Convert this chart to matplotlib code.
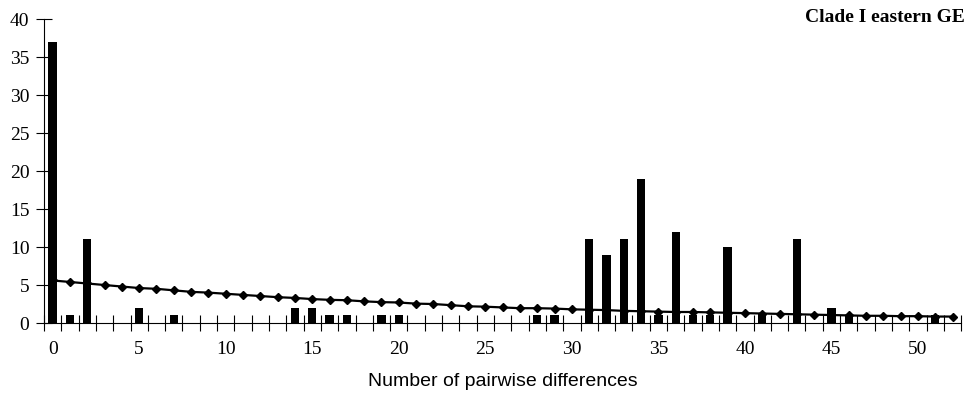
import numpy as np
import matplotlib.pyplot as plt

# observed mismatch counts (only non-zero categories)
bar_x = [0, 1, 2, 5, 7, 14, 15, 16, 17, 19, 20, 28, 29, 31, 32, 33, 34, 35,
         36, 37, 38, 39, 41, 43, 45, 46, 51]
bar_y = [37, 1, 11, 2, 1, 2, 2, 1, 1, 1, 1, 1, 1, 11, 9, 11, 19, 1,
         12, 1, 1, 10, 1, 11, 2, 1, 1]

# expected distribution, one value per category 0..52
line_y = [5.6, 5.4, 5.2, 5.0, 4.8, 4.6, 4.5, 4.3, 4.1, 4.0, 3.85, 3.7, 3.55,
          3.4, 3.3, 3.15, 3.05, 3.0, 2.85, 2.75, 2.7, 2.55, 2.5, 2.35, 2.2,
          2.15, 2.05, 1.95, 1.95, 1.9, 1.8, 1.75, 1.7, 1.6, 1.55, 1.5, 1.45,
          1.45, 1.4, 1.35, 1.3, 1.25, 1.2, 1.15, 1.1, 1.05, 1.0, 0.95, 0.95,
          0.9, 0.9, 0.85, 0.85]

x_labels = ['0', '5', '10', '15', '20', '25', '30', '35', '40', '45', '50']
title = 'Clade I eastern GE'

serif = 'Liberation Serif'
sans = 'Liberation Sans'

fig = plt.figure(figsize=(9.69, 3.96), dpi=100)
ax = fig.add_axes([0.0454, 0.1843, 0.9466, 0.7677])

n = len(line_y)
ax.plot(np.arange(n), line_y, color='black', lw=1.6, marker='D',
        markersize=4.5, zorder=2)
ax.bar(bar_x, bar_y, width=0.48, color='black', zorder=3)

ax.set_xlim(-0.5, n - 0.5)
ax.set_ylim(0, 40)

# category boundaries as ticks, labels every 5 categories
ax.set_xticks(np.arange(-0.5, n, 1.0))
ax.set_xticklabels([])
ax.tick_params(axis='x', which='major', direction='inout', length=12, width=0.8)
ax.set_xticks(np.arange(0, n, 5), minor=True)
ax.set_xticklabels(x_labels, minor=True, fontfamily=serif, fontsize=14)
ax.tick_params(axis='x', which='minor', length=0, pad=13)

ax.set_yticks(np.arange(0, 41, 5))
ax.tick_params(axis='y', direction='inout', length=11, width=0.8,
               labelsize=14, pad=5)
for lab in ax.get_yticklabels():
    lab.set_fontfamily(serif)

for s in ['top', 'right']:
    ax.spines[s].set_visible(False)
ax.spines['left'].set_linewidth(0.8)
ax.spines['bottom'].set_linewidth(0.8)

ax.set_xlabel('Number of pairwise differences', fontfamily=sans, fontsize=14,
              labelpad=11)
fig.text(0.996, 0.955, title, ha='right', va='center', fontfamily=serif,
         fontweight='bold', fontsize=14)

fig.savefig('out.png', dpi=100)
